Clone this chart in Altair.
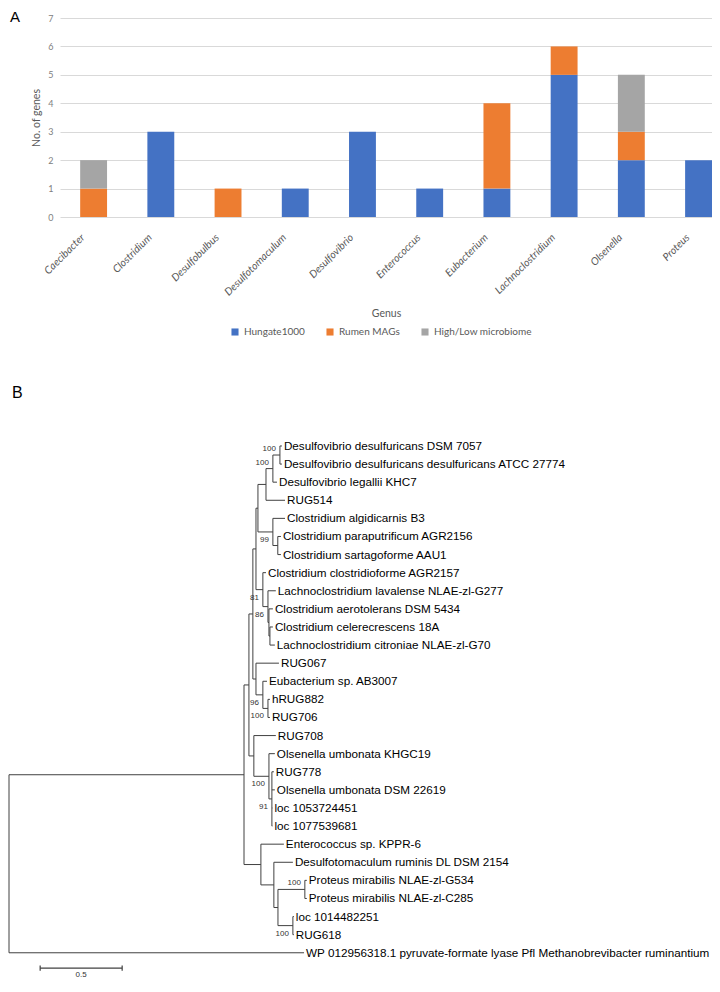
import re
import altair as alt
import pandas as pd

# ---------------- Panel A data ----------------
GENERA = ["Caecibacter", "Clostridium", "Desulfobulbus", "Desulfotomaculum",
          "Desulfovibrio", "Enterococcus", "Eubacterium", "Lachnoclostridium",
          "Olsenella", "Proteus"]
SERIES = ["Hungate1000", "Rumen MAGs", "High/Low microbiome"]
HUNGATE1000 = [0, 3, 0, 1, 3, 1, 1, 5, 2, 2]
RUMEN_MAGS = [1, 0, 1, 0, 0, 0, 3, 1, 1, 0]
HIGH_LOW = [1, 0, 0, 0, 0, 0, 0, 0, 2, 0]
SERIES_COLORS = ["#4472C4", "#ED7D31", "#A5A5A5"]
Y_TICKS = [0, 1, 2, 3, 4, 5, 6, 7]

# ---------------- Panel B data (Newick, bootstrap as internal labels) ----------------
TREE_NEWICK = """
(
 (
  (
   (
    (
     (
      (
       (
        ('Desulfovibrio desulfuricans DSM 7057':0.012,
         'Desulfovibrio desulfuricans desulfuricans ATCC 27774':0.012)100:0.043,
        'Desulfovibrio legallii KHC7':0.025
       )100:0.042,
       'RUG514':0.116
      ):0.049,
      ('Clostridium algidicarnis B3':0.074,
       ('Clostridium paraputrificum AGR2156':0.019,
        'Clostridium sartagoforme AAU1':0.019):0.030
      )99:0.091
     ):0.012,
     ('Clostridium clostridioforme AGR2157':0.019,
      ('Lachnoclostridium lavalense NLAE-zl-G277':0.048,
       ('Clostridium aerotolerans DSM 5434':0.024,
        ('Clostridium celerecrescens 18A':0.018,
         'Lachnoclostridium citroniae NLAE-zl-G70':0.030):0.006
       ):0.006
      )86:0.031
     )81:0.042
    ):0.019,
    ('RUG067':0.140,
     ('Eubacterium sp. AB3007':0.025,
      ('hRUG882':0.012,'RUG706':0.012)100:0.031
     )96:0.042
    ):0.019
   ):0.024,
   ('RUG708':0.134,
    ('Olsenella umbonata KHGC19':0.036,
     ('RUG778':0.012,'Olsenella umbonata DSM 22619':0.018,
      'loc 1053724451':0.003,'loc 1077539681':0.003)91:0.018
    )100:0.092
   ):0.030
  ):0.030,
  ('Enterococcus sp. KPPR-6':0.140,
   ('Desulfotomaculum ruminis DL DSM 2154':0.116,
    (
     ('Proteus mirabilis NLAE-zl-G534':0.012,'Proteus mirabilis NLAE-zl-C285':0.012)100:0.164,
     ('loc 1014482251':0.006,'RUG618':0.006)100:0.091
    ):0.025
   ):0.079
  ):0.103
 ):1.433,
 'WP 012956318.1 pyruvate-formate lyase Pfl Methanobrevibacter ruminantium':1.799
);
"""
SCALE_BAR_LENGTH = 0.5
SCALE_BAR_LABEL = "0.5"


# ---------------- tree parsing / layout ----------------
def strip_ws(s):
    out, quoted = [], False
    for ch in s:
        if ch == "'":
            quoted = not quoted
        if quoted or not ch.isspace():
            out.append(ch)
    return "".join(out).rstrip(";")


def parse_newick(s):
    pos = 0

    def node():
        nonlocal pos
        n = {"children": [], "name": None, "length": 0.0, "support": None}
        if s[pos] == "(":
            pos += 1
            while True:
                n["children"].append(node())
                if s[pos] == ",":
                    pos += 1
                    continue
                pos += 1  # ')'
                break
        if pos < len(s) and s[pos] == "'":
            end = s.index("'", pos + 1)
            label = s[pos + 1:end]
            pos = end + 1
        else:
            label = re.match(r"[^:,();]*", s[pos:]).group(0)
            pos += len(label)
        if n["children"]:
            n["support"] = label or None
        else:
            n["name"] = label
        if pos < len(s) and s[pos] == ":":
            pos += 1
            num = re.match(r"[0-9.eE+-]+", s[pos:]).group(0)
            n["length"] = float(num)
            pos += len(num)
        return n

    return node()


tree = parse_newick(strip_ws(TREE_NEWICK))
segments, leaves, supports = [], [], []
leaf_counter = [0]


def place(n, parent_depth, is_root=False):
    d = parent_depth + n["length"]
    n["x"] = d
    if not n["children"]:
        n["y"] = leaf_counter[0]
        leaf_counter[0] += 1
        leaves.append({"x": d, "y": n["y"], "label": n["name"]})
    else:
        for c in n["children"]:
            place(c, d)
        ys = [c["y"] for c in n["children"]]
        n["y"] = (ys[0] + ys[-1]) / 2.0
        segments.append({"x": d, "x2": d, "y": ys[0], "y2": ys[-1]})
        for i, c in enumerate(n["children"]):
            if c["children"] and c["support"]:
                supports.append({"x": c["x"], "y": c["y"], "label": c["support"],
                                 "side": "above" if i == 0 else "below"})
    if not is_root:
        segments.append({"x": parent_depth, "x2": d, "y": n["y"], "y2": n["y"]})


place(tree, 0.0, is_root=True)
seg_df = pd.DataFrame(segments)
leaf_df = pd.DataFrame(leaves)
sup_df = pd.DataFrame(supports)

# ---------------- Panel A ----------------
rows = []
for gi, g in enumerate(GENERA):
    for si, vals in enumerate([HUNGATE1000, RUMEN_MAGS, HIGH_LOW]):
        if vals[gi] > 0:
            rows.append({"genus": g, "series": SERIES[si], "order": si, "value": vals[gi]})
bar_df = pd.DataFrame(rows)

GRAY_TXT = "#595959"
FONT_A = "Lato"

bars = alt.Chart(bar_df).mark_bar().encode(
    x=alt.X("genus:N", sort=GENERA,
            scale=alt.Scale(paddingInner=0.6, paddingOuter=0.15, align=1),
            axis=alt.Axis(title="Genus", labelAngle=-45, labelFontStyle="italic",
                          labelFont=FONT_A, labelFontSize=10.5, labelColor=GRAY_TXT,
                          labelPadding=15, labelOffset=-14, ticks=False, domain=False,
                          titleFont=FONT_A, titleFontSize=10.5, titleColor=GRAY_TXT,
                          titleFontWeight="normal", titlePadding=11)),
    y=alt.Y("value:Q", stack="zero",
            scale=alt.Scale(domain=[0, 7], nice=False),
            axis=alt.Axis(values=Y_TICKS, title="No. of genes", grid=True,
                          gridColor="#d9d9d9", domain=False, ticks=False,
                          labelFont=FONT_A, labelFontSize=9, labelColor="#808080",
                          labelPadding=7, titleFont=FONT_A, titleFontSize=10.5,
                          titleColor=GRAY_TXT, titleFontWeight="normal",
                          titlePadding=6)),
    color=alt.Color("series:N",
                    scale=alt.Scale(domain=SERIES, range=SERIES_COLORS),
                    legend=alt.Legend(title=None, orient="none", legendX=170,
                                      legendY=309, direction="horizontal",
                                      symbolType="square", symbolSize=50,
                                      symbolStrokeWidth=0, labelFont=FONT_A,
                                      labelFontSize=10, labelColor=GRAY_TXT,
                                      columnPadding=20, labelOffset=4)),
    order=alt.Order("order:Q"),
)

label_a = alt.Chart(pd.DataFrame({"t": ["A"]})).mark_text(
    align="left", baseline="top", fontSize=15, font="Liberation Sans", color="black"
).encode(text="t:N", x=alt.value(-50), y=alt.value(-8))

panel_a = alt.layer(bars, label_a).properties(width=652, height=199)

# ---------------- Panel B ----------------
X_MAX = 700 / 164.0
X_SCALE = alt.Scale(domain=[0, X_MAX], range=[-51, 649], nice=False, zero=False)
Y_SCALE = alt.Scale(domain=[-3.7, 29.4], nice=False, zero=False, reverse=True)
LINE_COLOR = "#404040"

branches = alt.Chart(seg_df).mark_rule(color=LINE_COLOR, strokeWidth=1).encode(
    x=alt.X("x:Q", scale=X_SCALE, axis=None),
    x2="x2:Q",
    y=alt.Y("y:Q", scale=Y_SCALE, axis=None),
    y2="y2:Q",
)

leaf_text = alt.Chart(leaf_df).mark_text(
    align="left", baseline="middle", dx=2, fontSize=11.7, font="Liberation Sans",
    color="black"
).encode(x=alt.X("x:Q", scale=X_SCALE), y=alt.Y("y:Q", scale=Y_SCALE), text="label:N")

sup_above = alt.Chart(sup_df).transform_filter(alt.datum.side == "above").mark_text(
    align="right", baseline="middle", dx=-4, dy=-6, fontSize=8,
    font="Liberation Sans", color="#333333"
).encode(x=alt.X("x:Q", scale=X_SCALE), y=alt.Y("y:Q", scale=Y_SCALE), text="label:N")

sup_below = alt.Chart(sup_df).transform_filter(alt.datum.side == "below").mark_text(
    align="right", baseline="middle", dx=-4, dy=8, fontSize=8,
    font="Liberation Sans", color="#333333"
).encode(x=alt.X("x:Q", scale=X_SCALE), y=alt.Y("y:Q", scale=Y_SCALE), text="label:N")

SB_X0 = 0.19
SB_Y = 28.85
sb_df = pd.DataFrame({"x": [SB_X0], "x2": [SB_X0 + SCALE_BAR_LENGTH], "y": [SB_Y],
                      "label": [SCALE_BAR_LABEL]})
sb_line = alt.Chart(sb_df).mark_rule(color=LINE_COLOR, strokeWidth=1.2).encode(
    x=alt.X("x:Q", scale=X_SCALE), x2="x2:Q", y=alt.Y("y:Q", scale=Y_SCALE))
sb_ticks_df = pd.DataFrame({"x": [SB_X0, SB_X0 + SCALE_BAR_LENGTH],
                            "y": [SB_Y - 0.14] * 2, "y2": [SB_Y + 0.14] * 2})
sb_ticks = alt.Chart(sb_ticks_df).mark_rule(color=LINE_COLOR, strokeWidth=1.2).encode(
    x=alt.X("x:Q", scale=X_SCALE), y=alt.Y("y:Q", scale=Y_SCALE), y2="y2:Q")
sb_label = alt.Chart(sb_df).transform_calculate(
    xm="(datum.x + datum.x2) / 2").mark_text(
    align="center", baseline="middle", dy=6.5, fontSize=8, font="Liberation Sans",
    color="#333333"
).encode(x=alt.X("xm:Q", scale=X_SCALE), y=alt.Y("y:Q", scale=Y_SCALE), text="label:N")

label_b = alt.Chart(pd.DataFrame({"t": ["B"]})).mark_text(
    align="left", baseline="top", fontSize=16, font="Liberation Sans", color="black"
).encode(text="t:N", x=alt.value(-48), y=alt.value(6))

panel_b = alt.layer(branches, leaf_text, sup_above, sup_below, sb_line, sb_ticks,
                    sb_label, label_b).properties(width=645, height=18.1 * 33.1)

chart = alt.vconcat(panel_a, panel_b, spacing=42).resolve_scale(
    color="independent", x="independent", y="independent"
).properties(
    padding={"left": 0, "top": 2, "right": 0, "bottom": 0}
).configure_view(strokeWidth=0)

chart.save("out.html", embed_options={"renderer": "svg", "actions": False})
